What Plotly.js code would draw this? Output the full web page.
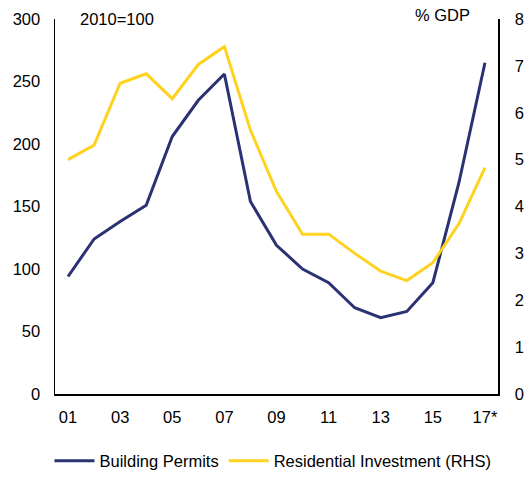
<!DOCTYPE html>
<html>
<head>
<meta charset="utf-8">
<script src="https://cdn.plot.ly/plotly-3.0.1.min.js"></script>
<style>
  html, body { margin: 0; padding: 0; background: #fff; }
  #gd { width: 529px; height: 477px; }
</style>
</head>
<body>
<div id="gd"></div>
<script>
// years 2001..2017 (2017 estimated)
var years = [2001, 2002, 2003, 2004, 2005, 2006, 2007, 2008, 2009,
             2010, 2011, 2012, 2013, 2014, 2015, 2016, 2017];
// building permits, index 2010=100 (LHS)
var permits = [94, 124, 138, 151, 206, 235, 256, 154, 119,
               100, 89, 69, 61, 66, 89, 169, 265];
// residential investment, % of GDP (RHS)
var resInvest = [5.0, 5.31, 6.63, 6.83, 6.3, 7.03, 7.41, 5.63, 4.32,
                 3.41, 3.41, 3.0, 2.62, 2.42, 2.8, 3.63, 4.83];
var tickYears = [2001, 2003, 2005, 2007, 2009, 2011, 2013, 2015, 2017];
var tickText = ["01", "03", "05", "07", "09", "11", "13", "15", "17*"];

var navy = "#2b3172";
var yellow = "#ffd21f";
var font = { family: "Liberation Sans, Arial, sans-serif", size: 16.5, color: "#000" };

var traces = [
  {
    type: "scatter", mode: "lines", name: "Building Permits",
    x: years, y: permits, yaxis: "y",
    line: { color: navy, width: 3 }
  },
  {
    type: "scatter", mode: "lines", name: "Residential Investment (RHS)",
    x: years, y: resInvest, yaxis: "y2",
    line: { color: yellow, width: 3 }
  }
];

var layout = {
  width: 529,
  height: 477,
  margin: { l: 55, r: 31, t: 19, b: 83, autoexpand: false },
  paper_bgcolor: "#fff",
  plot_bgcolor: "#fff",
  font: font,
  showlegend: true,
  legend: {
    orientation: "h",
    x: 0.492, xanchor: "center",
    y: -0.179, yanchor: "middle",
    font: font,
    itemwidth: 40,
    tracegroupgap: 0
  },
  xaxis: {
    range: [2000.5, 2017.5],
    tickmode: "array",
    tickvals: tickYears,
    ticktext: tickText,
    showgrid: false,
    zeroline: false,
    showline: true,
    linecolor: "#000",
    linewidth: 1.5,
    ticks: "outside",
    ticklen: 8,
    tickcolor: "rgba(0,0,0,0)",
    tickfont: font,
    fixedrange: true
  },
  yaxis: {
    range: [0, 300],
    tickmode: "linear",
    tick0: 0, dtick: 50,
    showgrid: false,
    zeroline: false,
    showline: true,
    linecolor: "#000",
    linewidth: 1.5,
    ticks: "outside",
    ticklen: 10,
    tickcolor: "rgba(0,0,0,0)",
    tickfont: font,
    fixedrange: true
  },
  yaxis2: {
    range: [0, 8],
    overlaying: "y",
    side: "right",
    tickmode: "linear",
    tick0: 0, dtick: 1,
    showgrid: false,
    zeroline: false,
    showline: true,
    linecolor: "#000",
    linewidth: 1.5,
    ticks: "outside",
    ticklen: 12,
    tickcolor: "rgba(0,0,0,0)",
    tickfont: font,
    fixedrange: true
  },
  annotations: [
    {
      text: "2010=100", xref: "paper", yref: "paper",
      x: 0.052, y: 1, xanchor: "left", yanchor: "middle",
      showarrow: false, font: font
    },
    {
      text: "% GDP", xref: "paper", yref: "paper",
      x: 0.941, y: 1.01, xanchor: "right", yanchor: "middle",
      showarrow: false, font: font
    }
  ]
};

Plotly.newPlot("gd", traces, layout, { staticPlot: true, displayModeBar: false });
</script>
</body>
</html>
